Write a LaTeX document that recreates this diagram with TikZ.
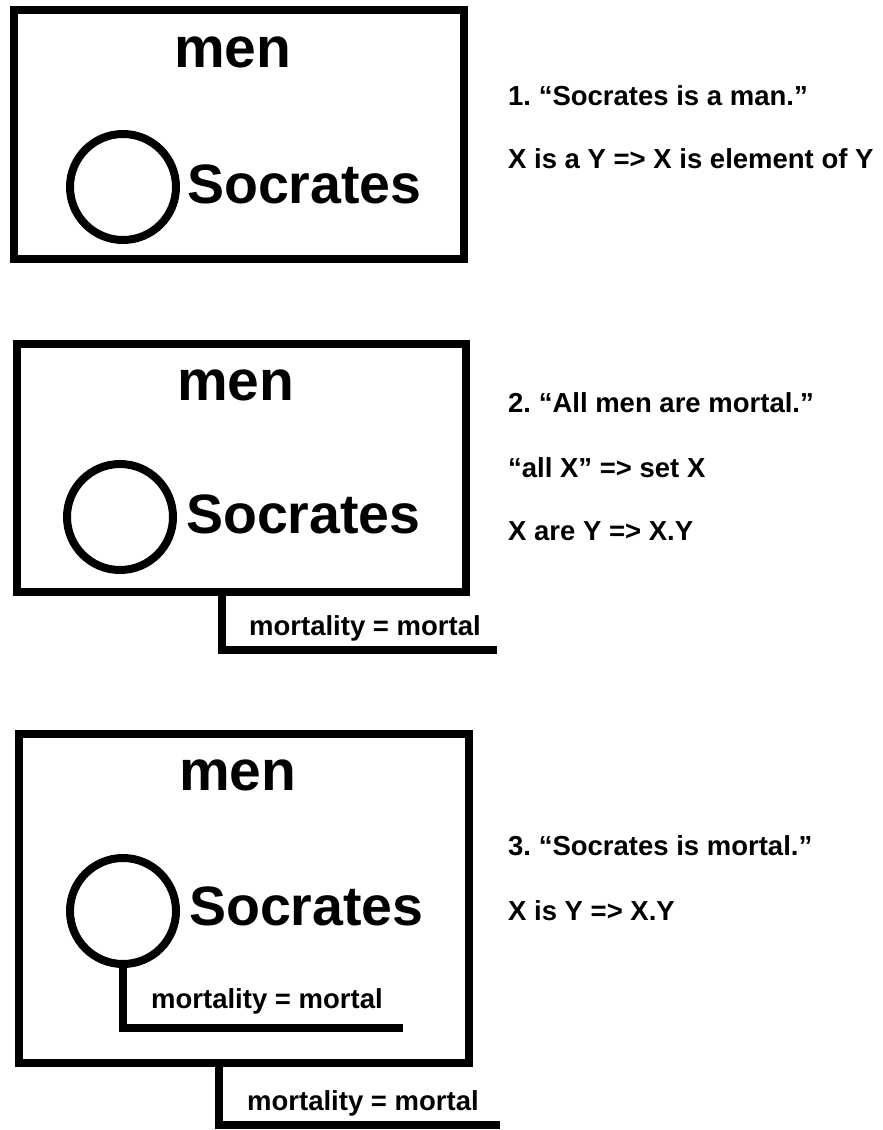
\documentclass[tikz,border=0pt]{standalone}
\usepackage{fontspec}
\setmainfont{Liberation Sans}
\usepackage{tikz}
\usetikzlibrary{positioning,calc}
\frenchspacing
\tikzset{
  setbox/.style={rectangle, draw, line width=8.5pt, inner sep=0pt, outer sep=0pt},
  elem/.style={circle, draw, line width=8pt, inner sep=0pt, outer sep=0pt, minimum size=106pt},
  tie/.style={line width=8.5pt},
  bigname/.style={anchor=base west, inner sep=0pt, font=\fontsize{57}{60}\selectfont\bfseries},
  elemname/.style={anchor=base west, inner sep=0pt, font=\fontsize{55.5}{60}\selectfont\bfseries},
  attr/.style={anchor=base west, inner sep=0pt, font=\fontsize{27.5}{30}\selectfont\bfseries},
  ruletext/.style={anchor=base west, inner sep=0pt, font=\fontsize{27.5}{30}\selectfont\bfseries},
}
\begin{document}
\begin{tikzpicture}[x=1pt,y=-1pt]
  \useasboundingbox (0,0) rectangle (883,1130);
  % 1
  \node[setbox, minimum width=450pt, minimum height=249pt] (box1) at (239,134.5) {};
  \node[bigname] (men1) at (174,67) {men};
  \node[elem] (soc1) at (123,187) {};
  \node[elemname] (socname1) at (187,203) {Socrates};
  \node[ruletext] (r1a) at (508,105) {1. “Socrates is a man.”};
  \node[ruletext] (r1b) at (508,168) {X is a Y => X is element of Y};
  % 2
  \node[setbox, minimum width=449pt, minimum height=248pt] (box2) at (241.5,468) {};
  \node[bigname] (men2) at (177,400) {men};
  \node[elem] (soc2) at (120,517) {};
  \node[elemname] (socname2) at (186,533) {Socrates};
  \coordinate (end2) at (497,650);
  \draw[tie] ([xshift=-19.5pt]box2.south) |- (end2);
  \node[attr] (mort2) at (249,635) {mortality = mortal};
  \node[ruletext] (r2a) at (508,412) {2. “All men are mortal.”};
  \node[ruletext] (r2b) at (508,477) {“all X” => set X};
  \node[ruletext] (r2c) at (508,540) {X are Y => X.Y};
  % 3
  \node[setbox, minimum width=450pt, minimum height=329pt] (box3) at (244,898.5) {};
  \node[bigname] (men3) at (179,790) {men};
  \node[elem] (soc3) at (123,911) {};
  \node[elemname] (socname3) at (189,925) {Socrates};
  \coordinate (end3a) at (403,1028);
  \draw[tie] (soc3.south) |- (end3a);
  \node[attr] (mort3a) at (151,1008) {mortality = mortal};
  \coordinate (end3b) at (500,1125);
  \draw[tie] ([xshift=-25pt]box3.south) |- (end3b);
  \node[attr] (mort3b) at (247,1110) {mortality = mortal};
  \node[ruletext] (r3a) at (508,855) {3. “Socrates is mortal.”};
  \node[ruletext] (r3b) at (508,920) {X is Y => X.Y};
\end{tikzpicture}
\end{document}
